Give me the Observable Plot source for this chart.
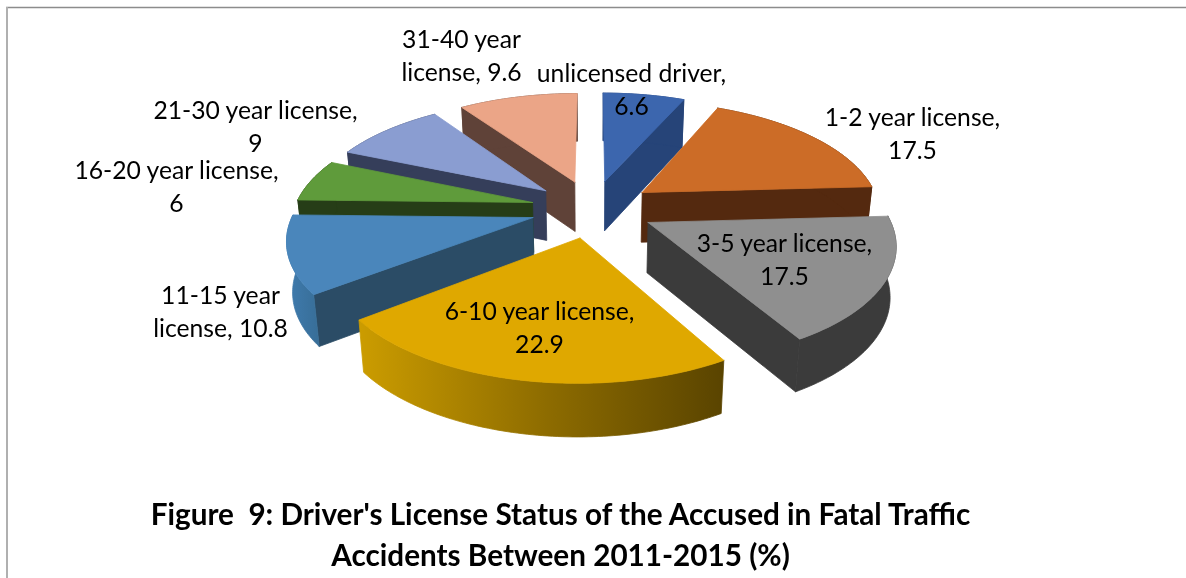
<!DOCTYPE html>
<html>
<head>
<meta charset="utf-8">
<style>html,body{margin:0;padding:0;background:#fff}svg{display:block}
g[aria-label="line"],g[aria-label="text"]{filter:blur(.45px)}</style>
<script src="https://cdn.jsdelivr.net/npm/d3@7"></script>
<script src="https://cdn.jsdelivr.net/npm/@observablehq/plot@0.6"></script>
</head>
<body>
<div id="chart"></div>
<script>
// ---- chart values ----
const categories = ["unlicensed driver", "1-2 year license", "3-5 year license", "6-10 year license",
  "11-15 year\nlicense", "16-20 year license", "21-30 year license", "31-40 year\nlicense"];
const values = [6.6, 17.5, 17.5, 22.9, 10.8, 6, 9, 9.6];
const separators = [",\n", ",\n", ",\n", ",\n", ", ", ",\n", ",\n", ", "];
const topColors = ["#3c66ae", "#cc6c27", "#8f8f8f", "#dfa800", "#4a86bb", "#5f9b3b", "#8a9dd1", "#eba587"];
const wallColors = ["#264478", "#54290f", "#3b3b3b", "#5c4500", "#2b4c66", "#263d17", "#353e5a", "#5f4238"];
const arcFills = ["#264478", "#54290f", "#3b3b3b", "url(#yellowWall)", "url(#blueWall)", "#263d17", "#353e5a", "#5f4238"];
const visibleCut = ["end", "end", "end", null, "start", "start", "start", "start"];
const paintOrder = [7, 6, 0, 1, 5, 4, 2, 3];
const labelX = [631, 912, 784, 539, 220, 176, 255, 461];
const labelY = [87, 131, 257, 325, 309, 184.5, 124, 53];
const titleLines = ["Figure  9: Driver's License Status of the Accused in Fatal Traffic",
  "Accidents Between 2011-2015 (%)"];

// ---- layout of the exploded perspective pie ----
const W = 1186, H = 578;
const cx = 592, cy = 208, bx = 238, by = 110.8, k = 0.163, explode = 0.26, wallShrink = 0.98;
const total = d3.sum(values);
const rad = d => d * Math.PI / 180;
let acc = 0;
const slices = values.map((v, i) => {
  const a0 = acc / total * 360; acc += v;
  return {i, a0, a1: acc / total * 360};
});
function project(s, r, deg) {
  const m = rad((s.a0 + s.a1) / 2), t = rad(deg);
  const px = explode * Math.sin(m) + r * Math.sin(t);
  const py = explode * Math.cos(m) + r * Math.cos(t);
  const w = 1 / (1 + k * py);
  return {x: cx + bx * px * w, y: cy - by * py * w, h: 36 + 14 * w};
}
const down = p => ({x: cx + (p.x - cx) * wallShrink, y: p.y + p.h});
function arc(s) {
  return d3.range(s.a0, s.a1, 1).concat([s.a1]).map(a => project(s, 1, a));
}
const faces = [];
for (const i of paintOrder) {
  const s = slices[i], rim = arc(s), apex = project(s, 0, 0);
  if (visibleCut[i]) {
    const e = visibleCut[i] === "end" ? rim[rim.length - 1] : rim[0];
    faces.push({fill: wallColors[i], pts: [apex, e, down(e), down(apex), apex]});
  }
  const band = [...rim, ...rim.slice().reverse().map(down)];
  faces.push({fill: arcFills[i], pts: [...band, band[0]]});
  faces.push({fill: topColors[i], pts: [apex, ...rim, apex]});
}
const labels = categories.map((c, i) => ({
  text: c + separators[i] + values[i], x: labelX[i], y: labelY[i]
}));

const defs = () => {
  const svg = d3.create("svg:defs");
  const grad = (id, x1, x2, stops) => {
    const g = svg.append("linearGradient").attr("id", id).attr("gradientUnits", "userSpaceOnUse")
      .attr("x1", x1).attr("x2", x2).attr("y1", 0).attr("y2", 0);
    stops.forEach(([o, c]) => g.append("stop").attr("offset", o).attr("stop-color", c));
  };
  grad("yellowWall", 360, 722, [[0, "#cb9c00"], [0.5, "#8f6d00"], [1, "#5a4400"]]);
  grad("blueWall", 287, 330, [[0, "#3f7bae"], [1, "#35698f"]]);
  return svg.node();
};

const chart = Plot.plot({
  width: W, height: H,
  margin: 0,
  x: {domain: [0, W], range: [0, W], axis: null},
  y: {domain: [0, H], range: [0, H], axis: null},
  marks: [
    defs,
    Plot.ruleY([7], {x1: 6, x2: W, stroke: "#8c8c8c", strokeWidth: 1.5}),
    Plot.ruleX([6.5], {y1: 7, y2: H, stroke: "#b0b0b0", strokeWidth: 2}),
    ...faces.map(f => Plot.line(f.pts, {x: "x", y: "y", fill: f.fill, stroke: f.fill, strokeWidth: 0.8, curve: "linear"})),
    Plot.text(labels, {x: "x", y: "y", text: "text", fontFamily: "Lato", fontSize: 24.7, fill: "#000", lineHeight: 1.34}),
    Plot.text(titleLines, {x: () => 560, y: (d, i) => [515, 556][i], text: d => d,
      fontFamily: "Lato", fontWeight: "bold", fontSize: 29.7, fill: "#000"})
  ]
});
document.getElementById("chart").append(chart);
</script>
</body>
</html>
